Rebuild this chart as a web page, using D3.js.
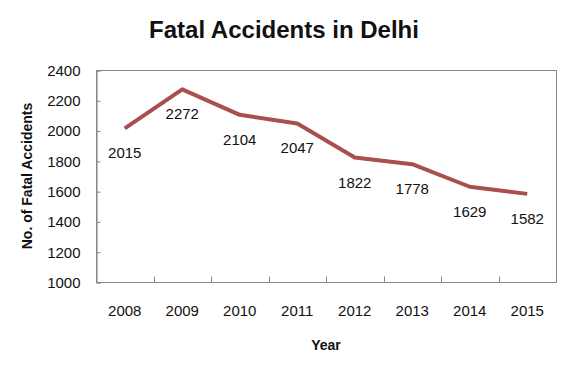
<!DOCTYPE html>
<html>
<head>
<meta charset="utf-8">
<script src="https://cdn.jsdelivr.net/npm/d3@7"></script>
<style>
  body { margin: 0; background: #fff; }
  text { font-family: "Liberation Sans", Arial, sans-serif; fill: #111; }
</style>
</head>
<body>
<div id="chart"></div>
<script>
let years = ["2008", "2009", "2010", "2011", "2012", "2013", "2014", "2015"];
let accidents = [2015, 2272, 2104, 2047, 1822, 1778, 1629, 1582];
let yTicks = [1000, 1200, 1400, 1600, 1800, 2000, 2200, 2400];

function chart() {
	let W = 570, H = 372;
	let margin = {top: 70, right: 14, bottom: 90, left: 96};
	let width = W - margin.left - margin.right,
		height = H - margin.top - margin.bottom;

	let svg = d3.select("#chart")
		.append("svg")
		.attr("width", W)
		.attr("height", H);

	let plot = svg.append("g")
		.attr("transform", "translate(" + margin.left + "," + margin.top + ")");

	let x = d3.scaleBand()
		.domain(years)
		.range([0, width]);

	let y = d3.scaleLinear()
		.domain([1000, 2400])
		.range([height, 0]);

	// frame
	plot.append("rect")
		.attr("x", 0.5).attr("y", 0.5)
		.attr("width", width).attr("height", height)
		.attr("fill", "none")
		.attr("stroke", "#868686")
		.attr("stroke-width", 1);

	// y axis
	let yAxis = plot.append("g")
		.attr("transform", "translate(0.5,0.5)")
		.call(d3.axisLeft(y).tickValues(yTicks).tickFormat(d3.format("d")).tickSize(-4).tickPadding(16));
	yAxis.select(".domain").attr("stroke", "#868686");
	yAxis.selectAll(".tick line").attr("stroke", "#868686");
	yAxis.selectAll(".tick text")
		.attr("font-size", 15)
		.attr("font-family", "Liberation Sans, Arial, sans-serif")
		.attr("fill", "#111");

	// x axis: ticks between categories
	let xAxis = plot.append("g")
		.attr("transform", "translate(0," + (height + 0.5) + ")");
	xAxis.selectAll("line")
		.data(years.slice(1))
		.enter()
		.append("line")
		.attr("x1", function(d){ return Math.round(x(d)) + 0.5 })
		.attr("x2", function(d){ return Math.round(x(d)) + 0.5 })
		.attr("y1", 0).attr("y2", -6)
		.attr("stroke", "#868686");
	xAxis.selectAll("text")
		.data(years)
		.enter()
		.append("text")
		.attr("x", function(d){ return x(d) + x.bandwidth() / 2 })
		.attr("y", 33)
		.attr("text-anchor", "middle")
		.attr("font-size", 15)
		.text(function(d){ return d });

	// line
	let line = d3.line()
		.x(function(d, i){ return x(years[i]) + x.bandwidth() / 2 })
		.y(function(d){ return y(d) });

	plot.append("path")
		.datum(accidents)
		.attr("d", line)
		.attr("fill", "none")
		.attr("stroke", "#a94f4d")
		.attr("stroke-width", 4)
		.attr("stroke-linejoin", "round");

	// data labels
	plot.selectAll(".lbl")
		.data(accidents)
		.enter()
		.append("text")
		.attr("class", "lbl")
		.attr("x", function(d, i){ return x(years[i]) + x.bandwidth() / 2 })
		.attr("y", function(d){ return y(d) + 30 })
		.attr("text-anchor", "middle")
		.attr("font-size", 15)
		.text(function(d){ return d });

	// title
	svg.append("text")
		.attr("x", 284)
		.attr("y", 38)
		.attr("text-anchor", "middle")
		.attr("font-size", 24)
		.attr("font-weight", "bold")
		.text("Fatal Accidents in Delhi");

	svg.append("text")
		.attr("x", 326)
		.attr("y", 350)
		.attr("text-anchor", "middle")
		.attr("font-size", 14)
		.attr("font-weight", "bold")
		.text("Year");

	svg.append("text")
		.attr("transform", "translate(32,176) rotate(-90)")
		.attr("text-anchor", "middle")
		.attr("font-size", 14)
		.attr("font-weight", "bold")
		.text("No. of Fatal Accidents");
}

chart();
</script>
</body>
</html>
